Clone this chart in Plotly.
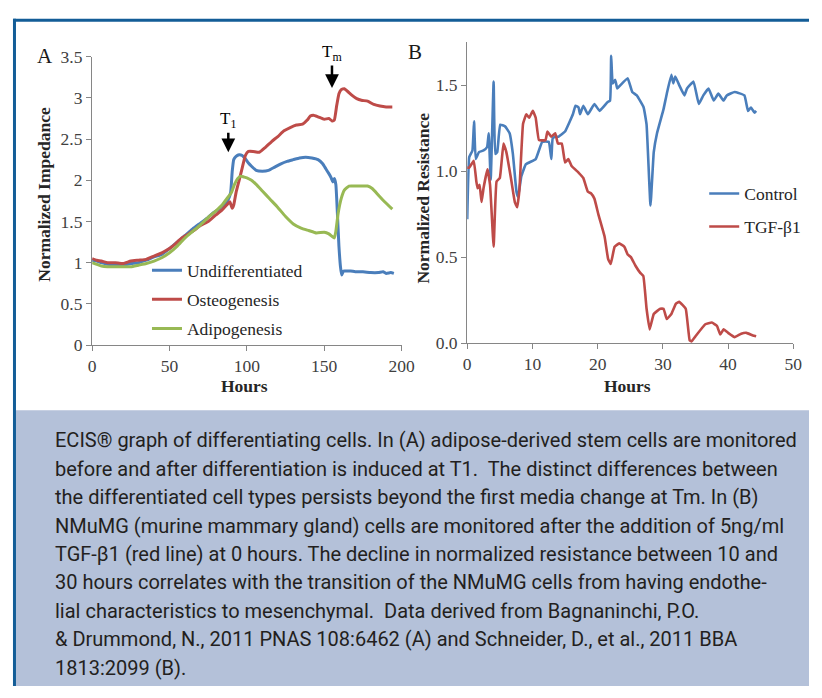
import plotly.graph_objects as go

W, H = 822, 698

# ---------------- Panel A data (Hours vs Normalized Impedance) ----------------
undiff_h = [0, 3, 6, 10, 15, 20, 25, 30, 35, 40, 45, 50, 55, 60, 65, 70, 75, 78, 82, 86,
            88, 89.5, 90.5, 91.5, 93, 95, 97, 99, 101, 103, 106, 110, 114, 118, 122, 126, 130, 134, 138, 142,
            146, 149, 151, 153, 154.5, 155.5, 156.5, 157.5, 158.5, 159.5, 160.5, 161.3, 162.5, 164, 167, 170,
            175, 180, 185, 188, 190, 193, 195]
undiff_v = [1.03, 1.02, 1.0, 0.98, 0.97, 0.97, 0.99, 1.0, 1.03, 1.07, 1.1, 1.17, 1.25, 1.33, 1.41, 1.48,
            1.55, 1.6, 1.65, 1.72, 1.77, 1.85, 2.1, 2.25, 2.29, 2.31, 2.3, 2.26, 2.21, 2.17, 2.12, 2.11, 2.12,
            2.16, 2.2, 2.23, 2.25, 2.27, 2.28, 2.27, 2.25, 2.2, 2.14, 2.08, 2.03, 1.98, 2.02, 1.95, 1.6, 1.2,
            0.95, 0.85, 0.9, 0.9, 0.9, 0.89, 0.89, 0.88, 0.88, 0.89, 0.87, 0.88, 0.87]

osteo_h = [0, 3, 6, 10, 15, 20, 25, 30, 35, 40, 45, 48, 52, 58, 65, 70, 75, 80, 84, 87,
           89, 90.5, 91.5, 93, 95, 97, 99, 101, 104, 108, 112, 116, 120, 124, 128, 132, 136, 139, 141, 143,
           146, 150, 153, 155, 156.5, 158, 159.5, 161, 163, 165, 168, 171, 174, 178, 182, 186, 190, 194]
osteo_v = [1.05, 1.03, 1.02, 1.0, 1.0, 0.99, 1.02, 1.03, 1.04, 1.08, 1.12, 1.15, 1.2, 1.3, 1.38, 1.45,
           1.5, 1.58, 1.64, 1.7, 1.74, 1.66, 1.7, 1.85, 2.0, 2.15, 2.3, 2.35, 2.35, 2.34, 2.4, 2.47, 2.53,
           2.6, 2.64, 2.67, 2.68, 2.73, 2.78, 2.79, 2.77, 2.74, 2.75, 2.72, 2.73, 2.9, 3.05, 3.1, 3.11, 3.08,
           3.03, 2.99, 2.97, 2.96, 2.92, 2.9, 2.89, 2.89]

adipo_h = [0, 3, 6, 10, 15, 20, 25, 30, 35, 40, 45, 50, 55, 60, 65, 70, 75, 80, 84, 88,
           90, 92, 94, 96, 98, 100, 103, 106, 110, 115, 120, 125, 130, 135, 140, 145, 150, 153, 155, 156.5,
           157.5, 159, 161, 163, 166, 170, 175, 178, 181, 185, 189, 194]
adipo_v = [1.0, 0.98, 0.96, 0.95, 0.95, 0.95, 0.95, 0.97, 0.99, 1.02, 1.06, 1.12, 1.2, 1.3, 1.38, 1.46,
           1.55, 1.63, 1.7, 1.8, 1.85, 1.95, 2.02, 2.05, 2.04, 2.03, 2.0, 1.95, 1.87, 1.77, 1.67, 1.56, 1.47,
           1.42, 1.39, 1.36, 1.37, 1.35, 1.32, 1.3, 1.38, 1.6, 1.78, 1.88, 1.93, 1.93, 1.93, 1.93, 1.9, 1.82,
           1.74, 1.65]

# ---------------- Panel B data (Hours vs Normalized Resistance) ----------------
control_h = [0, 0.3, 0.8, 1.05, 1.3, 1.8, 2.5, 3.05, 3.3, 3.6, 4.05, 4.3, 4.6, 5.06, 5.8, 6.5, 7.0, 7.55,
             7.8, 8.3, 9, 10.5, 11.5, 12.5, 12.9, 13.1, 13.5, 14, 15, 16.2, 16.6, 17.07, 17.3, 17.8, 18.5,
             19.5, 20.3, 21.5, 21.9, 22.07, 22.3, 22.7, 23, 23.5, 24.6, 25.3, 26, 27.05, 27.5, 28.1, 28.6,
             29.1, 30.1, 30.6, 31.3, 31.6, 31.9, 32.5, 33.3, 33.7, 34.7, 35.5, 36.2, 37, 37.8, 38.5, 39.3,
             39.8, 41, 42.5, 43.05, 43.5, 44.05, 44.3]
control_v = [0.72, 1.08, 1.12, 1.29, 1.07, 1.11, 1.12, 1.14, 1.22, 0.95, 1.52, 1.1, 1.11, 1.27, 1.26, 1.22,
             1.1, 0.88, 0.85, 0.97, 1.04, 1.07, 1.17, 1.17, 1.07, 1.19, 1.2, 1.2, 1.23, 1.33, 1.38, 1.37,
             1.33, 1.38, 1.33, 1.39, 1.35, 1.4, 1.41, 1.67, 1.51, 1.53, 1.48, 1.5, 1.54, 1.46, 1.44, 1.37,
             1.27, 0.80, 1.11, 1.22, 1.36, 1.45, 1.56, 1.51, 1.55, 1.5, 1.44, 1.48, 1.52, 1.39, 1.44, 1.48,
             1.41, 1.45, 1.41, 1.44, 1.46, 1.44, 1.35, 1.37, 1.34, 1.35]

tgf_h = [0, 0.3, 1.0, 1.4, 1.6, 1.9, 2.2, 2.5, 3.1, 3.5, 4.05, 4.5, 5.0, 5.56, 6.0, 6.7, 7.3, 7.66, 8.0,
         8.56, 9.06, 9.5, 10.06, 10.5, 11.0, 12.0, 12.3, 12.9, 13.5, 13.9, 14.5, 15.0, 15.5, 16.0, 17.1,
         17.8, 18.5, 19.0, 19.5, 20.1, 21.06, 21.6, 22.0, 22.6, 23.3, 24.1, 24.6, 25.1, 25.8, 26.5, 27.0,
         27.5, 27.97, 28.6, 29.6, 30.1, 30.6, 31.3, 32.0, 32.5, 33.5, 34.1, 34.4, 35.0, 36.5, 37.5, 38.3,
         38.8, 39.3, 40.0, 41.0, 42.0, 42.8, 43.8, 44.3]
tgf_v = [1.02, 1.02, 1.06, 0.94, 0.9, 0.92, 0.82, 0.9, 1.01, 0.92, 0.56, 0.94, 0.96, 1.16, 1.11, 0.96,
         0.82, 0.79, 0.89, 1.275, 1.33, 1.31, 1.35, 1.31, 1.18, 1.18, 1.23, 1.2, 1.22, 1.16, 1.16, 1.05,
         1.07, 1.03, 0.99, 0.96, 0.88, 0.87, 0.84, 0.75, 0.62, 0.49, 0.46, 0.56, 0.58, 0.56, 0.515, 0.5,
         0.45, 0.41, 0.39, 0.2, 0.08, 0.17, 0.2, 0.2, 0.14, 0.17, 0.23, 0.24, 0.2, 0.017, 0.01, 0.04, 0.11,
         0.12, 0.1, 0.05, 0.08, 0.06, 0.035, 0.055, 0.06, 0.045, 0.04]

a_xticks = [0, 50, 100, 150, 200]
a_yticks = [0, 0.5, 1, 1.5, 2, 2.5, 3, 3.5]
b_xticks = [0, 10, 20, 30, 40, 50]
b_yticks = [0, 0.5, 1.0, 1.5]

caption_lines = [
    "ECIS® graph of differentiating cells. In (A) adipose-derived stem cells are monitored",
    "before and after differentiation is induced at T1.  The distinct differences between",
    "the differentiated cell types persists beyond the first media change at Tm. In (B)",
    "NMuMG (murine mammary gland) cells are monitored after the addition of 5ng/ml",
    "TGF-β1 (red line) at 0 hours. The decline in normalized resistance between 10 and",
    "30 hours correlates with the transition of the NMuMG cells from having endothe-",
    "lial characteristics to mesenchymal.  Data derived from Bagnaninchi, P.O.",
    "& Drummond, N., 2011 PNAS 108:6462 (A) and Schneider, D., et al., 2011 BBA",
    "1813:2099 (B).",
]

BLUE = "#4a7ebb"
RED = "#be4b48"
GREEN = "#98b954"
AXC = "#868686"
SERIF = "Liberation Serif, Times New Roman, serif"
TXT = "#262626"


def px(x):
    return x / W


def py(y):
    return 1 - y / H


fig = go.Figure()
lw = 3
fig.add_trace(go.Scatter(x=undiff_h, y=undiff_v, mode="lines", name="Undifferentiated",
                         line=dict(color=BLUE, width=lw, shape="spline", smoothing=0.4),
                         xaxis="x", yaxis="y", legend="legend"))
fig.add_trace(go.Scatter(x=osteo_h, y=osteo_v, mode="lines", name="Osteogenesis",
                         line=dict(color=RED, width=lw, shape="spline", smoothing=0.4),
                         xaxis="x", yaxis="y", legend="legend2"))
fig.add_trace(go.Scatter(x=adipo_h, y=adipo_v, mode="lines", name="Adipogenesis",
                         line=dict(color=GREEN, width=lw, shape="spline", smoothing=0.4),
                         xaxis="x", yaxis="y", legend="legend3"))
fig.add_trace(go.Scatter(x=control_h, y=control_v, mode="lines", name="Control",
                         line=dict(color=BLUE, width=2.6, shape="spline", smoothing=0.3),
                         xaxis="x2", yaxis="y2", legend="legend4"))
fig.add_trace(go.Scatter(x=tgf_h, y=tgf_v, mode="lines", name="TGF-β1",
                         line=dict(color=RED, width=2.6, shape="spline", smoothing=0.3),
                         xaxis="x2", yaxis="y2", legend="legend5"))

axis_common = dict(showline=True, linecolor=AXC, linewidth=1.3, ticks="outside", ticklen=5,
                   tickcolor=AXC, tickwidth=1.3, showgrid=False, zeroline=False,
                   tickfont=dict(family=SERIF, size=17.5, color="#404040"), fixedrange=True)


def legend_at(x, y):
    return dict(x=px(x), y=py(y), xanchor="left", yanchor="middle", bgcolor="rgba(0,0,0,0)",
                borderwidth=0, font=dict(family=SERIF, size=17.5, color=TXT))


def label(text, x, y, size, angle=0, color=TXT):
    return dict(text=text, x=px(x), y=py(y), xref="paper", yref="paper", showarrow=False,
                xanchor="center", yanchor="middle", textangle=angle,
                font=dict(family=SERIF, size=size, color=color))


annotations = [
    label("A", 42, 47, 21, color="#1a1a1a"),
    label("B", 420, 43, 21, color="#1a1a1a"),
    label("<b>Normalized Impedance</b>", 40, 190, 17.5, angle=-90),
    label("<b>Normalized Resistance</b>", 428, 194, 17.5, angle=-90),
    label("<b>Hours</b>", 246, 387, 17.5),
    label("<b>Hours</b>", 637, 387, 17.5),
    dict(text="T<sub>1</sub>", x=88, y=2.34, xref="x", yref="y", showarrow=True, ax=0, ay=-32,
         arrowhead=2, arrowsize=1.1, arrowwidth=2.5, arrowcolor="#000000",
         font=dict(family=SERIF, size=17, color="#000000")),
    dict(text="T<sub>m</sub>", x=155, y=3.12, xref="x", yref="y", showarrow=True, ax=0, ay=-35,
         arrowhead=2, arrowsize=1.1, arrowwidth=2.5, arrowcolor="#000000",
         font=dict(family=SERIF, size=17, color="#000000")),
]

for i, line in enumerate(caption_lines):
    annotations.append(dict(text=line, x=px(50), y=py(443 + i * 29.25), xref="paper", yref="paper",
                            xanchor="left", yanchor="middle", showarrow=False,
                            font=dict(family="Roboto, sans-serif", size=20, color="#231f20")))

shapes = [
    dict(type="rect", xref="paper", yref="paper", x0=px(12), x1=px(822), y0=py(412), y1=py(696),
         fillcolor="#b4c1d9", line=dict(width=0), layer="below"),
    dict(type="line", xref="paper", yref="paper", x0=px(9.5), x1=px(822), y0=py(10.5), y1=py(10.5),
         line=dict(color="#135d97", width=3)),
    dict(type="line", xref="paper", yref="paper", x0=px(10.7), x1=px(10.7), y0=py(9), y1=py(696),
         line=dict(color="#135d97", width=3)),
]

fig.update_layout(
    width=W, height=H, margin=dict(l=0, r=0, t=0, b=0),
    paper_bgcolor="white", plot_bgcolor="rgba(0,0,0,0)",
    showlegend=True,
    xaxis=dict(domain=[px(90), px(406)], range=[0, 200], tickvals=a_xticks, anchor="y", **axis_common),
    yaxis=dict(domain=[py(345), py(48)], range=[0, 3.5], tickvals=a_yticks, anchor="x", **axis_common),
    xaxis2=dict(domain=[px(473), px(806)], range=[0, 50], tickvals=b_xticks, anchor="y2", **axis_common),
    yaxis2=dict(domain=[py(343), py(33)], range=[0, 1.75], tickvals=b_yticks, tickformat=".1f",
                anchor="x2", **axis_common),
    legend=legend_at(146, 268),
    legend2=legend_at(146, 298),
    legend3=legend_at(146, 328),
    legend4=legend_at(715, 189),
    legend5=legend_at(715, 223),
    annotations=annotations,
    shapes=shapes,
)

fig.write_html("out.html", config={"displayModeBar": False},
               post_script="document.body.style.margin='0';document.body.style.padding='0';"
                           "document.documentElement.style.overflow='hidden';")
